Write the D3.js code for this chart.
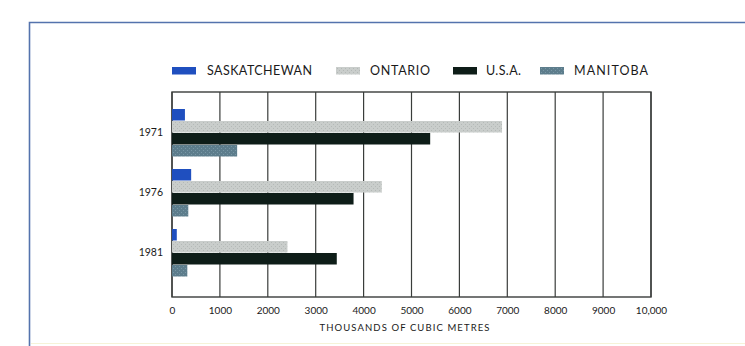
<!DOCTYPE html>
<html><head><meta charset="utf-8">
<script src="https://cdn.jsdelivr.net/npm/d3@7"></script>
<style>
html,body{margin:0;padding:0;background:#fff;}
svg{display:block;}
text{font-family:Lato,"Open Sans",sans-serif;fill:#1a1a1a;}
</style></head>
<body>
<svg id="chart" width="745" height="346"></svg>
<script>
const years = ["1971", "1976", "1981"];
const seriesNames = ["SASKATCHEWAN", "ONTARIO", "U.S.A.", "MANITOBA"];
const saskatchewan = [270, 400, 100];
const ontario = [6890, 4380, 2410];
const usa = [5390, 3790, 3440];
const manitoba = [1360, 340, 320];
const xTicks = [0, 1000, 2000, 3000, 4000, 5000, 6000, 7000, 8000, 9000, 10000];
const xTickLabels = ["0", "1000", "2000", "3000", "4000", "5000", "6000", "7000", "8000", "9000", "10,000"];
const xTitle = "THOUSANDS OF CUBIC METRES";
const colors = ["#1f4fbf", "#c9cdcb", "#0e1d18", "#5d7d8c"];

(function () {
const seriesValues = [saskatchewan, ontario, usa, manitoba];
const svg = d3.select("#chart");

// outer blue frame
svg.append("path").attr("d", "M29.5,346 L29.5,22.5 L745,22.5")
  .attr("fill", "none").attr("stroke", "#5473ad").attr("stroke-width", 1.6);
svg.append("line").attr("x1", 31).attr("x2", 745).attr("y1", 343.5).attr("y2", 343.5)
  .attr("stroke", "#f6f3d8").attr("stroke-width", 1);

// patterns for speckled textures
const defs = svg.append("defs");
function speckle(id, base, dot) {
  const p = defs.append("pattern").attr("id", id).attr("width", 4).attr("height", 4)
    .attr("patternUnits", "userSpaceOnUse");
  p.append("rect").attr("width", 4).attr("height", 4).attr("fill", base);
  p.append("rect").attr("x", 1).attr("y", 0).attr("width", 1).attr("height", 1).attr("fill", dot);
  p.append("rect").attr("x", 3).attr("y", 2).attr("width", 1).attr("height", 1).attr("fill", dot);
}
speckle("pOnt", colors[1], "#b4b9b7");
speckle("pMan", colors[3], "#7897a5");
const fills = [colors[0], "url(#pOnt)", colors[2], "url(#pMan)"];

const pLeft = 172, pRight = 651, pTop = 92, pBottom = 297;
const x = d3.scaleLinear().domain([0, 10000]).range([pLeft, pRight]);
const y = d3.scaleBand().domain(years).range([103, 283]).paddingInner(0.2).paddingOuter(0.1);
const yi = d3.scaleBand().domain(d3.range(seriesNames.length)).range([0, y.bandwidth()]);

// gridlines
svg.append("g").selectAll("line").data(xTicks).join("line")
  .attr("x1", d => x(d)).attr("x2", d => x(d)).attr("y1", pTop).attr("y2", pBottom)
  .attr("stroke", "#3a3d3b").attr("stroke-width", 1.2);
svg.append("rect").attr("x", pLeft).attr("y", pTop).attr("width", pRight - pLeft).attr("height", pBottom - pTop)
  .attr("fill", "none").attr("stroke", "#3a3d3b").attr("stroke-width", 1.4);

// bars
years.forEach((yr, gi) => {
  seriesValues.forEach((arr, si) => {
    svg.append("rect")
      .attr("x", x(0)).attr("y", y(yr) + yi(si))
      .attr("width", x(arr[gi]) - x(0)).attr("height", yi.bandwidth() - 0.5)
      .attr("fill", fills[si]);
  });
});

// x axis labels
const xAxis = d3.axisBottom(x).tickValues(xTicks).tickFormat((d, i) => xTickLabels[i]).tickSize(0).tickPadding(10);
const gx = svg.append("g").attr("transform", `translate(0,${pBottom})`).call(xAxis);
gx.select(".domain").remove();
gx.selectAll("text").attr("font-size", 10).attr("font-family", "Lato, sans-serif").attr("fill", "#1a1a1a");

svg.append("text").attr("x", 405).attr("y", 331).attr("text-anchor", "middle")
  .attr("font-size", 9.5).attr("letter-spacing", 1.1).text(xTitle);

// y labels
const yAxis = d3.axisLeft(y).tickSize(0).tickPadding(9);
const gy = svg.append("g").attr("transform", `translate(${pLeft},0)`).call(yAxis);
gy.select(".domain").remove();
gy.selectAll("text").attr("font-size", 10.5).attr("font-family", "Lato, sans-serif").attr("fill", "#1a1a1a");

// legend
const legendPos = [
  {sx: 172, tx: 207, tw: 105},
  {sx: 336, tx: 370, tw: 60},
  {sx: 453, tx: 486, tw: 35},
  {sx: 540, tx: 574, tw: 74}
];
seriesNames.forEach((name, i) => {
  const lp = legendPos[i];
  svg.append("rect").attr("x", lp.sx).attr("y", 67).attr("width", 24).attr("height", 7.5).attr("fill", fills[i]);
  svg.append("text").attr("x", lp.tx).attr("y", 75).attr("font-size", 12.5)
    .attr("textLength", lp.tw).attr("lengthAdjust", "spacing").text(name);
});
})();
</script>
</body></html>
